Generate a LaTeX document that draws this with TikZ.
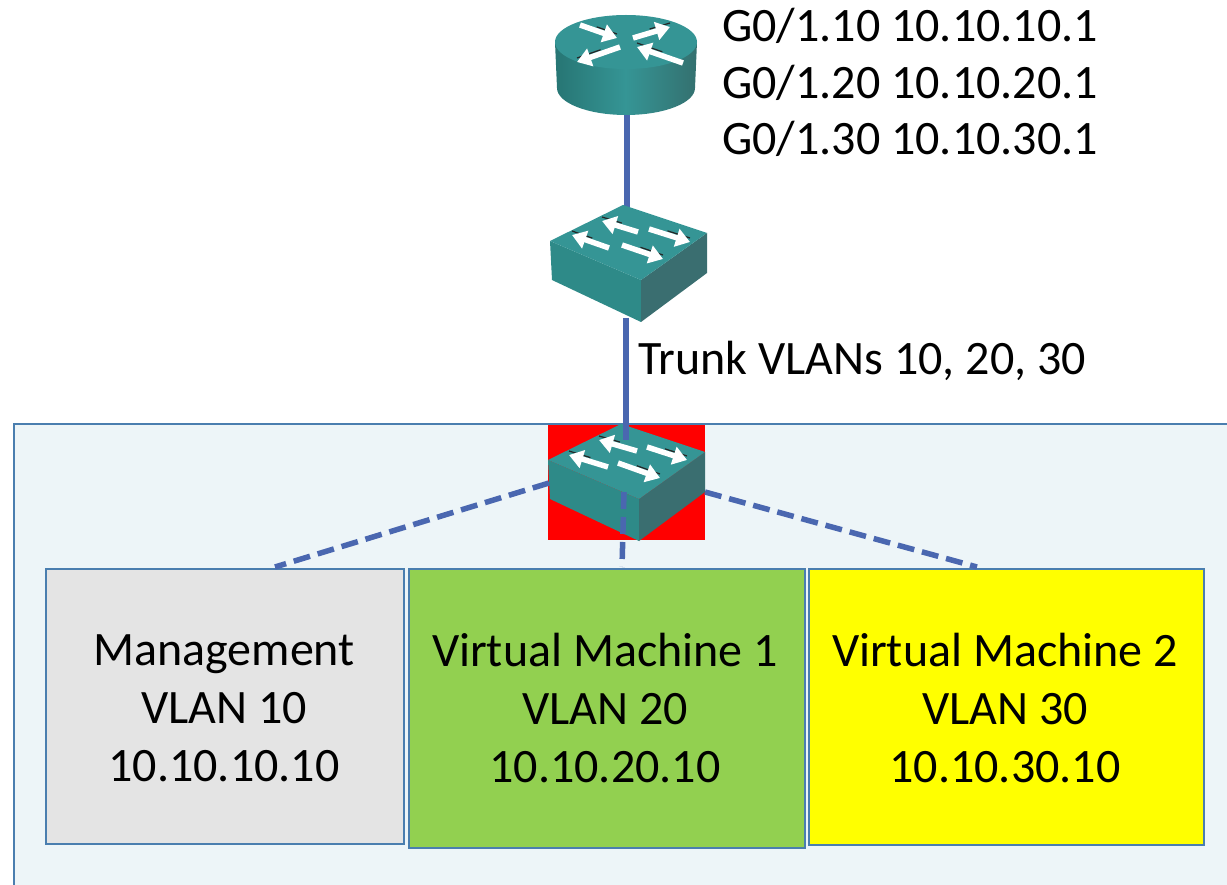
\documentclass[tikz,border=0pt]{standalone}
\usepackage{fontspec}
\setmainfont{Carlito}
\usetikzlibrary{arrows.meta,calc}
\definecolor{panelfill}{HTML}{EDF5F8}
\definecolor{panelline}{HTML}{4A7EAF}
\definecolor{linkblue}{HTML}{4A67B0}
\definecolor{tealtop}{HTML}{359595}
\definecolor{tealleft}{HTML}{2E8A88}
\definecolor{tealright}{HTML}{3A6E70}
\definecolor{tealdark}{HTML}{34706F}
\definecolor{vmgreen}{HTML}{92D050}
\definecolor{vmyellow}{HTML}{FFFF00}
\definecolor{vmgray}{HTML}{E4E4E4}
\definecolor{purered}{HTML}{FF0000}
\newcommand{\lbl}{\fontsize{48}{48}\selectfont}
\tikzset{
  x=1pt,y=-1pt,
  lbltext/.style={inner sep=0pt,font=\lbl,text=black},
  vmbox/.style={draw=panelline,line width=1.6pt,inner sep=0pt},
  link/.style={draw=linkblue,line width=5.5pt},
  dashlink/.style={draw=linkblue,line width=5.5pt,dash pattern=on 17pt off 8pt},
  wa/.style={draw=white,line width=5.5pt,-{Triangle[length=14pt,width=18pt,fill=white]}},
  wb/.style={draw=black!85,line width=1.2pt}
}
\newcommand{\wharrow}[4]{%
  \draw[wb] ($(#1,#2-4)!0.45!(#3,#4-4)$) -- (#3,#4-4);
  \draw[wa] (#1,#2) -- (#3,#4);}
\newcommand{\swicon}[2]{%
  \begin{scope}[shift={(#1,#2)}]
    \fill[tealleft] (0,0) -- (91,39) -- (91,81) -- (2,39) -- cycle;
    \fill[tealright] (91,39) -- (157,-8) -- (157,32) -- (91,81) -- cycle;
    \fill[tealtop] (0,0) -- (73,-36) -- (157,-8) -- (91,39) -- cycle;
  \end{scope}}
\begin{document}
\begin{tikzpicture}
\useasboundingbox (0,0) rectangle (1227,885);
\clip (0,0) rectangle (1227,885);
% panel
\node[draw=panelline,fill=panelfill,line width=1.6pt,inner sep=0pt,anchor=north west,minimum width=1240pt,minimum height=490pt] (panel) at (13,423) {};
% boxes
\node[vmbox,fill=vmgray,anchor=north west,minimum width=358pt,minimum height=275pt] (mgmt) at (45,568) {};
\node[vmbox,fill=vmgreen,anchor=north west,minimum width=396pt,minimum height=279pt] (vm1) at (408,568) {};
\node[vmbox,fill=vmyellow,anchor=north west,minimum width=395pt,minimum height=276pt] (vm2) at (808,568) {};
\node[lbltext,anchor=base] (m1) at (224,665) {Management};
\node[lbltext,anchor=base] (m2) at (224,723) {VLAN 10};
\node[lbltext,anchor=base] (m3) at (224,781) {10.10.10.10};
\node[lbltext,anchor=base] (a1) at (605,666) {Virtual Machine 1};
\node[lbltext,anchor=base] (a2) at (605,724) {VLAN 20};
\node[lbltext,anchor=base] (a3) at (605,782) {10.10.20.10};
\node[lbltext,anchor=base] (b1) at (1005,666) {Virtual Machine 2};
\node[lbltext,anchor=base] (b2) at (1005,724) {VLAN 30};
\node[lbltext,anchor=base] (b3) at (1005,782) {10.10.30.10};
% anchors
\coordinate (rbot) at (627,112);
\coordinate (s1top) at (627,210);
\coordinate (s1bot) at (626,318);
\coordinate (s3top) at (626,440);
\coordinate (s3l) at (549,483);
\coordinate (s3r) at (705,492);
\coordinate (s3b) at (624,492);
\coordinate (mgmttop) at (275,567);
\coordinate (vm1top) at (622,567);
\coordinate (vm2top) at (977,567);
% red backing, switch 3
\node[fill=purered,inner sep=0pt,anchor=north west,minimum width=157pt,minimum height=115pt] (redbg) at (548,425) {};
\swicon{548}{460}
\wharrow{637}{451}{599}{440}
\wharrow{647}{447}{687}{460}
\wharrow{608}{467}{569}{455}
\wharrow{618}{463}{660}{478}
% links
\draw[link] (rbot) -- (s1top);
\draw[link] (s1bot) -- (s3top);
\draw[dashlink] (s3b) -- (vm1top);
\draw[dashlink] (s3l) -- (mgmttop);
\draw[dashlink] (s3r) -- (vm2top);
% switch 1
\swicon{550}{241}
\wharrow{638}{232}{602}{221}
\wharrow{649}{229}{690}{242}
\wharrow{609}{248}{572}{235}
\wharrow{622}{245}{663}{259}
% router
\shade[left color=tealleft!85!black,right color=tealdark,middle color=tealtop]
  (555,42) -- (557,88) arc[start angle=180,end angle=0,x radius=69,y radius=27] -- (697,42) -- cycle;
\fill[tealtop] (626,42) ellipse[x radius=71,y radius=27];
\wharrow{580}{25}{617}{38}
\wharrow{633}{38}{670}{27}
\wharrow{620}{47}{577}{62}
\wharrow{683}{63}{637}{47}
% labels
\node[lbltext,anchor=base west] (t1) at (722,42) {G0/1.10 10.10.10.1};
\node[lbltext,anchor=base west] (t2) at (722,99) {G0/1.20 10.10.20.1};
\node[lbltext,anchor=base west] (t3) at (722,155) {G0/1.30 10.10.30.1};
\node[lbltext,anchor=base west] (trunk) at (638,374) {Trunk VLANs 10, 20, 30};
\end{tikzpicture}
\end{document}
